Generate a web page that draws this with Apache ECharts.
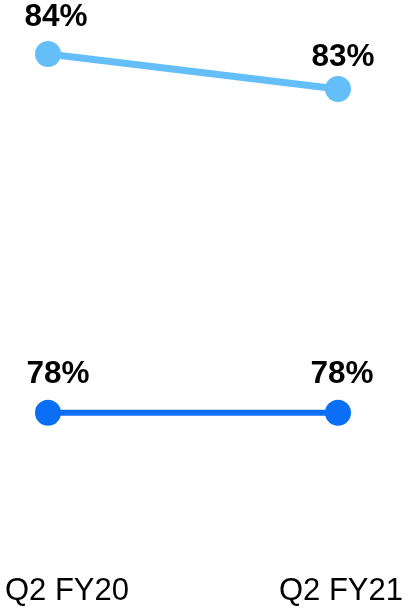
<!DOCTYPE html>
<html>
<head>
<meta charset="utf-8">
<script src="https://cdn.jsdelivr.net/npm/echarts@6/dist/echarts.min.js"></script>
<style>html,body{margin:0;padding:0;background:#fff}#c{width:411px;height:612px}</style>
</head>
<body>
<div id="c"></div>
<script>
const categories = ['Q2 FY20', 'Q2 FY21'];
const seriesUpper = [84, 83];
const seriesLower = [78, 78];

const FONT = '"Liberation Sans", Arial, sans-serif';
const chart = echarts.init(document.getElementById('c'), null, {renderer: 'canvas'});

const labelDist = { upper: [8, 3], lower: [9, 9] };
const labelShift = { upper: [8, 5], lower: [10, 4] };

function items(vals, key) {
  return vals.map((v, i) => ({
    value: v,
    label: { distance: labelDist[key][i], offset: [labelShift[key][i], 0] }
  }));
}

const baseLabel = {
  show: true,
  position: 'top',
  formatter: p => Math.round(p.value) + '%',
  fontFamily: FONT,
  fontSize: 31.5,
  fontWeight: 'bold',
  color: '#000'
};

chart.setOption({
  animation: false,
  backgroundColor: '#fff',
  grid: { left: 48, right: 73, top: 19, bottom: 68, containLabel: false },
  xAxis: {
    type: 'category',
    boundaryGap: false,
    data: categories.map((c, i) => ({
      value: c,
      textStyle: { padding: i === 0 ? [0, 0, 0, 38] : [0, 0, 0, 6] }
    })),
    axisLine: { show: false },
    axisTick: { show: false },
    splitLine: { show: false },
    axisLabel: {
      fontFamily: FONT, fontSize: 31, color: '#000', margin: 32,
      interval: 0, hideOverlap: false
    }
  },
  yAxis: [
    { type: 'value', min: 70, max: 85, show: false, splitLine: { show: false } },
    { type: 'value', min: 70, max: 102, show: false, splitLine: { show: false } }
  ],
  series: [
    {
      type: 'line', yAxisIndex: 0, data: items(seriesUpper, 'upper'),
      symbol: 'circle', symbolSize: 26,
      lineStyle: { color: '#64bff9', width: 7 },
      itemStyle: { color: '#64bff9' },
      label: baseLabel
    },
    {
      type: 'line', yAxisIndex: 1, data: items(seriesLower, 'lower'),
      symbol: 'circle', symbolSize: 26,
      lineStyle: { color: '#0a6ff5', width: 6 },
      itemStyle: { color: '#0a6ff5' },
      label: baseLabel
    }
  ]
});
</script>
</body>
</html>
